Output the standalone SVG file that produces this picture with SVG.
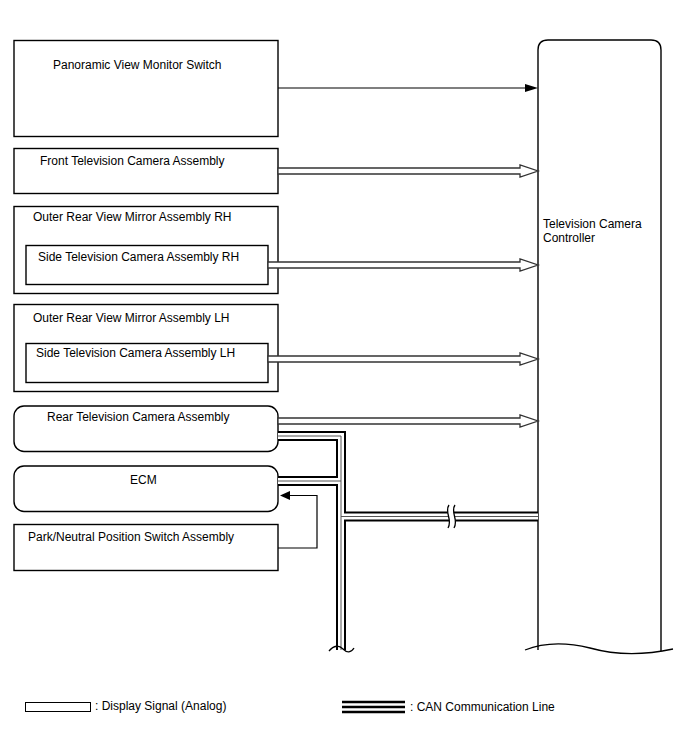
<svg xmlns="http://www.w3.org/2000/svg" width="688" height="755" viewBox="0 0 688 755">
<style>
.box{fill:#fff;stroke:#000;stroke-width:1.4}
.t{font-family:"Liberation Sans",Arial,sans-serif;font-size:12px;fill:#000}
.an{fill:#fff;stroke:#333;stroke-width:1.3;stroke-linejoin:miter}
.canB{fill:none;stroke:#000;stroke-width:10;stroke-linejoin:miter}
.canW{fill:none;stroke:#fff;stroke-width:6;stroke-linejoin:miter}
.canG{fill:none;stroke:#555;stroke-width:1}
.thin{fill:none;stroke:#000;stroke-width:1.2}
</style>
<rect width="688" height="755" fill="#fff"/>

<g id="controller">
<path class="box" d="M538,650 V50 Q538,40 548,40 H651 Q661,40 661,50 V651"/>
<path d="M525,650 C545,642 565,642 590,648 C615,655 640,656 673,649" fill="none" stroke="#000" stroke-width="1.3"/>
<text class="t" x="543" y="228">Television Camera</text>
<text class="t" x="543" y="242">Controller</text>
</g>

<g id="panoramic">
<rect class="box" x="14" y="40.5" width="264" height="96"/>
<text class="t" x="53" y="69">Panoramic View Monitor Switch</text>
</g>

<g id="front-camera">
<rect class="box" x="14" y="148.5" width="264" height="45"/>
<text class="t" x="40" y="165">Front Television Camera Assembly</text>
</g>

<g id="mirror-rh">
<rect class="box" x="14" y="206.5" width="264" height="87"/>
<text class="t" x="33" y="221">Outer Rear View Mirror Assembly RH</text>
<g id="side-camera-rh">
<rect class="box" x="26" y="245.5" width="242" height="39"/>
<text class="t" x="38" y="261">Side Television Camera Assembly RH</text>
</g>
</g>

<g id="mirror-lh">
<rect class="box" x="14" y="304.5" width="264" height="87"/>
<text class="t" x="33" y="322">Outer Rear View Mirror Assembly LH</text>
<g id="side-camera-lh">
<rect class="box" x="26" y="343.5" width="242" height="39"/>
<text class="t" x="36" y="357">Side Television Camera Assembly LH</text>
</g>
</g>

<g id="rear-camera">
<rect class="box" x="14" y="406" width="264" height="45.5" rx="10" ry="10"/>
<text class="t" x="47" y="421">Rear Television Camera Assembly</text>
</g>

<g id="ecm">
<rect class="box" x="14" y="466" width="264" height="45.5" rx="10" ry="10"/>
<text class="t" x="130" y="484">ECM</text>
</g>

<g id="park-neutral">
<rect class="box" x="14" y="524.5" width="264" height="46"/>
<text class="t" x="28" y="541">Park/Neutral Position Switch Assembly</text>
</g>

<g id="connectors">
<!-- panoramic signal -->
<line class="thin" x1="278" y1="88" x2="527" y2="88"/>
<polygon points="538,88 525,84 525,92" fill="#000"/>
<!-- analog display signals -->
<polygon class="an" points="278,168 520,168 520,165 538,171 520,177 520,174 278,174"/>
<polygon class="an" points="268,262 520,262 520,259 538,265 520,271 520,268 268,268"/>
<polygon class="an" points="268,356 520,356 520,353 538,359 520,365 520,362 268,362"/>
<polygon class="an" points="278,418 520,418 520,415 538,421 520,427 520,424 278,424"/>
<!-- park/neutral to ECM -->
<polyline class="thin" points="278,548 317,548 317,495.5 289,495.5"/>
<polygon points="280,495.5 290,491 290,500" fill="#000"/>
<!-- CAN bus -->
<path class="canB" d="M278,436 H341 V650 M278,481 H341 M341,516.5 H538"/>
<path class="canW" d="M278,436 H341 V650 M278,481 H341 M341,516.5 H538"/>
<path class="canG" d="M278,436 H341 V650 M278,481 H341 M341,516.5 H538"/>
<!-- break on controller branch -->
<path d="M449,505 C444,512 453,520 448,528 L454,528 C459,520 450,512 455,505 Z" fill="#fff" stroke="none"/>
<path d="M449,505 C444,512 453,520 448,528 M455,505 C450,512 459,520 454,528" fill="none" stroke="#000" stroke-width="1.3"/>
<!-- break at bottom of bus -->
<rect x="330" y="650" width="24" height="10" fill="#fff"/>
<path d="M329,651 C334,645 339,645 343,649 C347,653 351,653 354,648" fill="none" stroke="#000" stroke-width="1.3"/>
</g>

<g id="legend">
<rect x="25.5" y="702.5" width="65" height="9" fill="#fff" stroke="#000" stroke-width="1"/>
<text class="t" x="95" y="710">: Display Signal (Analog)</text>
<line x1="342" y1="702" x2="405" y2="702" stroke="#000" stroke-width="2.5"/>
<line x1="342" y1="707" x2="405" y2="707" stroke="#000" stroke-width="2.5"/>
<line x1="342" y1="712" x2="405" y2="712" stroke="#000" stroke-width="2.5"/>
<text class="t" x="410" y="711">: CAN Communication Line</text>
</g>
</svg>
